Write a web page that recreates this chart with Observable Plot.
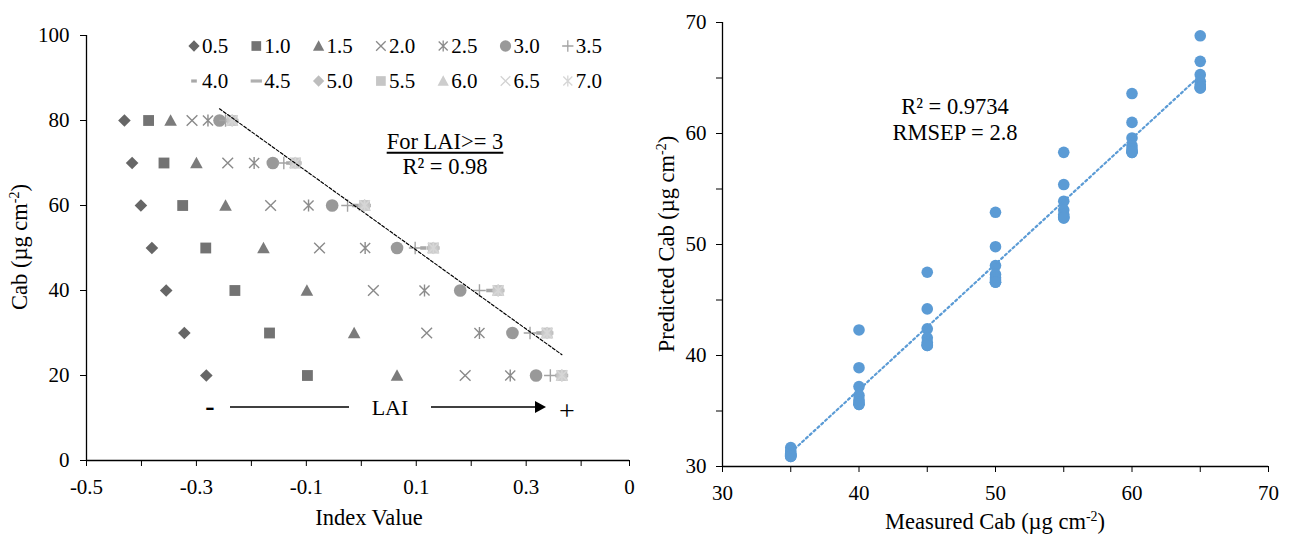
<!DOCTYPE html>
<html><head><meta charset="utf-8">
<script src="https://cdn.jsdelivr.net/npm/d3@7"></script>
<script src="https://cdn.jsdelivr.net/npm/@observablehq/plot@0.6"></script>
<style>
body{margin:0;background:#fff;}
#wrap{position:relative;width:1290px;height:539px;overflow:hidden;font-family:"Liberation Serif",serif;color:#000;}
.panel{position:absolute;top:0;}
.lbl{position:absolute;transform:translate(-50%,-50%);white-space:nowrap;font-size:22.5px;line-height:1;}
.rot{transform:translate(-50%,-50%) rotate(-90deg);}
sup{font-size:0.62em;vertical-align:0.55em;line-height:0;}
svg.overlay{position:absolute;left:0;top:0;pointer-events:none;}
svg text{font-family:"Liberation Serif",serif !important;}
</style></head><body>
<div id="wrap">
  <div id="left" class="panel" style="left:0"></div>
  <div id="right" class="panel" style="left:645px"></div>
</div>
<script>
// ---------- Left chart data ----------
const laiLevels = ["0.5","1.0","1.5","2.0","2.5","3.0","3.5","4.0","4.5","5.0","5.5","6.0","6.5","7.0"];
const cabLevels = [80, 70, 60, 50, 40, 30, 20];
// index value of each LAI series (order of laiLevels) for each Cab level
const indexCab80 = [-0.431,-0.387,-0.347,-0.308,-0.279,-0.258,-0.247,-0.242,-0.235,-0.235,-0.235,-0.235,-0.235,-0.235];
const indexCab70 = [-0.417,-0.359,-0.300,-0.243,-0.195,-0.161,-0.141,-0.131,-0.120,-0.120,-0.120,-0.120,-0.120,-0.120];
const indexCab60 = [-0.401,-0.325,-0.247,-0.165,-0.096,-0.053,-0.025,-0.011,0.006,0.006,0.006,0.006,0.006,0.006];
const indexCab50 = [-0.381,-0.283,-0.178,-0.076,0.007,0.065,0.098,0.113,0.131,0.131,0.131,0.131,0.131,0.131];
const indexCab40 = [-0.355,-0.230,-0.099,0.022,0.115,0.180,0.215,0.233,0.249,0.249,0.249,0.249,0.249,0.249];
const indexCab30 = [-0.322,-0.167,-0.013,0.119,0.215,0.275,0.307,0.324,0.338,0.338,0.338,0.338,0.338,0.338];
const indexCab20 = [-0.282,-0.098,0.065,0.189,0.271,0.318,0.344,0.359,0.365,0.365,0.365,0.365,0.365,0.365];
const indexRows = [indexCab80, indexCab70, indexCab60, indexCab50, indexCab40, indexCab30, indexCab20];
const trendMinLAI = 3;

const leftXTicks = [-0.5, -0.3, -0.1, 0.1, 0.3, 0.488];
const leftXTickLabels = ["-0.5", "-0.3", "-0.1", "0.1", "0.3", "0"];
const leftXMinorTicks = [-0.4, -0.2, 0, 0.2, 0.4];
const leftYTicks = [0, 20, 40, 60, 80, 100];

// ---------- Right chart data ----------
const measuredCab = [35, 40, 45, 50, 55, 60, 65];
const predicted35 = [31.7, 31.4, 31.2, 31.1, 31.0, 31.0, 30.9, 30.9];
const predicted40 = [42.3, 38.9, 37.2, 36.4, 36.0, 35.8, 35.6, 35.6];
const predicted45 = [47.5, 44.2, 42.4, 41.6, 41.2, 41.0, 40.9, 40.9];
const predicted50 = [52.9, 49.8, 48.1, 47.3, 47.0, 46.8, 46.6, 46.6];
const predicted55 = [58.3, 55.4, 53.9, 53.1, 52.7, 52.5, 52.4, 52.4];
const predicted60 = [63.6, 61.0, 59.6, 58.9, 58.6, 58.4, 58.3, 58.3];
const predicted65 = [68.8, 66.5, 65.3, 64.7, 64.4, 64.2, 64.1, 64.1];
const predictedRows = [predicted35, predicted40, predicted45, predicted50, predicted55, predicted60, predicted65];
const rightTicks = [30, 40, 50, 60, 70];
const rightMinorTicks = [35, 45, 55, 65];

// ---------- custom Excel-like marker symbols ----------
const R = s => Math.sqrt(s / Math.PI);
const symbols = {
  diamond: {draw(c, s) { const r = R(s); c.moveTo(0, -r); c.lineTo(r, 0); c.lineTo(0, r); c.lineTo(-r, 0); c.closePath(); }},
  square: {draw(c, s) { const r = R(s) * 0.86; c.rect(-r, -r, 2 * r, 2 * r); }},
  triangle: {draw(c, s) { const r = R(s); c.moveTo(0, -r); c.lineTo(r, r * 0.85); c.lineTo(-r, r * 0.85); c.closePath(); }},
  times: {draw(c, s) { const r = R(s) * 0.85; c.moveTo(-r, -r); c.lineTo(r, r); c.moveTo(-r, r); c.lineTo(r, -r); }},
  star: {draw(c, s) { const r = R(s) * 0.8; c.moveTo(-r, -r); c.lineTo(r, r); c.moveTo(-r, r); c.lineTo(r, -r); c.moveTo(0, -r * 1.2); c.lineTo(0, r * 1.2); }},
  circle: {draw(c, s) { const r = R(s); c.moveTo(r, 0); c.arc(0, 0, r, 0, 2 * Math.PI); c.closePath(); }},
  plus: {draw(c, s) { const r = R(s); c.moveTo(-r, 0); c.lineTo(r, 0); c.moveTo(0, -r); c.lineTo(0, r); }},
  dashShort: {draw(c, s) { const r = R(s); c.rect(-r * 0.5, -r * 0.28, r, r * 0.56); }},
  dashLong: {draw(c, s) { const r = R(s); c.rect(-r, -r * 0.28, 2 * r, r * 0.56); }}
};
const seriesStyle = [
  {sym: "diamond",  color: "#666666", filled: true},
  {sym: "square",   color: "#737373", filled: true},
  {sym: "triangle", color: "#7b7b7b", filled: true},
  {sym: "times",    color: "#8a8a8a", filled: false},
  {sym: "star",     color: "#8c8c8c", filled: false},
  {sym: "circle",   color: "#999999", filled: true},
  {sym: "plus",     color: "#a3a3a3", filled: false},
  {sym: "dashShort",color: "#a8a8a8", filled: true},
  {sym: "dashLong", color: "#b0b0b0", filled: true},
  {sym: "diamond",  color: "#bdbdbd", filled: true},
  {sym: "square",   color: "#c6c6c6", filled: true},
  {sym: "triangle", color: "#cdcdcd", filled: true},
  {sym: "times",    color: "#d3d3d3", filled: false},
  {sym: "star",     color: "#d6d6d6", filled: false}
];
const markerR = 6.3;

// ---------- build tables ----------
const leftPoints = laiLevels.flatMap((lai, i) => cabLevels.map((cab, j) => ({lai, li: i, laiNum: +lai, cab, index: indexRows[j][i]})));
const rightPoints = measuredCab.flatMap((m, j) => predictedRows[j].map(p => ({measured: m, predicted: p})));

const FONT = '"Liberation Serif", serif';
const baseStyle = {fontFamily: FONT, fontSize: "21px", color: "#000", background: "transparent", overflow: "visible"};
const leftLabel = new Map(leftXTicks.map((t, i) => [t, leftXTickLabels[i]]));

function dotMark(i) {
  const st = seriesStyle[i];
  return Plot.dot(leftPoints.filter(d => d.li === i), {
    x: "index", y: "cab", symbol: symbols[st.sym], r: markerR,
    fill: st.filled ? st.color : "none",
    stroke: st.filled ? "none" : st.color,
    strokeWidth: st.filled ? 0 : 1.4
  });
}

const leftChart = Plot.plot({
  width: 645, height: 539,
  marginLeft: 86, marginRight: 16, marginTop: 35, marginBottom: 79,
  x: {domain: [-0.5, 0.488]},
  y: {domain: [0, 100]},
  style: baseStyle,
  marks: [
    Plot.axisX({ticks: leftXTicks, tickFormat: d => leftLabel.get(d), tickSize: 6, tickPadding: 13, label: null}),
    Plot.axisX({ticks: leftXMinorTicks, tickFormat: () => "", tickSize: 6, label: null}),
    Plot.axisY({ticks: leftYTicks, tickSize: 6, tickPadding: 11, label: null}),
    Plot.ruleY([0], {stroke: "#000", strokeWidth: 1.3}),
    Plot.ruleX([-0.5], {stroke: "#000", strokeWidth: 1.3}),
    ...laiLevels.map((_, i) => dotMark(i)),
    Plot.linearRegressionY(leftPoints.filter(d => d.laiNum >= trendMinLAI), {x: "index", y: "cab", ci: 0, stroke: "#000", strokeWidth: 1.2, strokeDasharray: "3,2"})
  ]
});
leftChart.setAttribute("font-family", FONT);
document.getElementById("left").appendChild(leftChart);

const rightChart = Plot.plot({
  width: 645, height: 539,
  marginLeft: 77, marginRight: 22, marginTop: 22, marginBottom: 73,
  x: {domain: [30, 70]},
  y: {domain: [30, 70]},
  style: baseStyle,
  marks: [
    Plot.axisX({ticks: rightTicks, tickSize: 6, tickPadding: 13, label: null}),
    Plot.axisX({ticks: rightMinorTicks, tickFormat: () => "", tickSize: 6, label: null}),
    Plot.axisY({ticks: rightTicks, tickSize: 6, tickPadding: 10, label: null}),
    Plot.axisY({ticks: rightMinorTicks, tickFormat: () => "", tickSize: 6, label: null}),
    Plot.ruleY([30], {stroke: "#000", strokeWidth: 1.3}),
    Plot.ruleX([30], {stroke: "#000", strokeWidth: 1.3}),
    Plot.dot(rightPoints, {x: "measured", y: "predicted", r: 5.8, fill: "#5b9bd5", stroke: "none"}),
    Plot.linearRegressionY(rightPoints, {x: "measured", y: "predicted", ci: 0, stroke: "#5b9bd5", strokeWidth: 2.2, strokeDasharray: "2.2,3"})
  ]
});
rightChart.setAttribute("font-family", FONT);
document.getElementById("right").appendChild(rightChart);

// ---------- labels & annotations ----------
const wrap = document.getElementById("wrap");
function addLabel(html, x, y, cls = "lbl") {
  const d = document.createElement("div");
  d.className = cls; d.innerHTML = html;
  d.style.left = x + "px"; d.style.top = y + "px";
  wrap.appendChild(d);
  return d;
}
addLabel("Index Value", 369, 518);
addLabel("Cab (µg cm<sup>-2</sup>)", 20, 247, "lbl rot");
addLabel("Measured Cab (µg cm<sup>-2</sup>)", 995, 522);
addLabel("Predicted Cab (µg cm<sup>-2</sup>)", 667, 244, "lbl rot");
addLabel("<span style='text-decoration:underline;text-underline-offset:3px'>For LAI&gt;= 3</span>", 445, 142);
addLabel("R² = 0.98", 445, 167);
addLabel("R² = 0.9734", 955, 107);
addLabel("RMSEP = 2.8", 955, 133);

// legend + LAI arrow overlay
const ov = d3.select(wrap).append("svg").attr("class", "overlay").attr("width", 645).attr("height", 539)
  .attr("font-family", FONT);
const legCols = 7, legX0 = 194, legDx = 62.3, legY = [46, 81];
laiLevels.forEach((lai, i) => {
  const st = seriesStyle[i];
  const cx = legX0 + (i % legCols) * legDx, cy = legY[Math.floor(i / legCols)];
  const p = d3.path(); symbols[st.sym].draw(p, markerR * markerR * Math.PI * 0.8);
  ov.append("path").attr("d", p.toString()).attr("transform", `translate(${cx},${cy})`)
    .attr("fill", st.filled ? st.color : "none").attr("stroke", st.filled ? "none" : st.color).attr("stroke-width", 1.3);
  ov.append("text").attr("x", cx + 8).attr("y", cy).attr("dy", "0.35em").attr("font-size", 21).text(lai);
});
const arrowY = 407;
ov.append("line").attr("x1", 230).attr("x2", 349).attr("y1", arrowY).attr("y2", arrowY).attr("stroke", "#000").attr("stroke-width", 1.5);
ov.append("line").attr("x1", 431).attr("x2", 537).attr("y1", arrowY).attr("y2", arrowY).attr("stroke", "#000").attr("stroke-width", 1.5);
ov.append("path").attr("d", `M535,${arrowY - 6}L546,${arrowY}L535,${arrowY + 6}Z`).attr("fill", "#000");
ov.append("text").attr("x", 390).attr("y", arrowY).attr("dy", "0.35em").attr("text-anchor", "middle").attr("font-size", 22).text("LAI");
ov.append("text").attr("x", 210).attr("y", arrowY).attr("dy", "0.3em").attr("text-anchor", "middle").attr("font-size", 28).attr("font-weight", "bold").text("-");
ov.append("text").attr("x", 567).attr("y", arrowY + 3).attr("dy", "0.35em").attr("text-anchor", "middle").attr("font-size", 28).text("+");
</script></body></html>
